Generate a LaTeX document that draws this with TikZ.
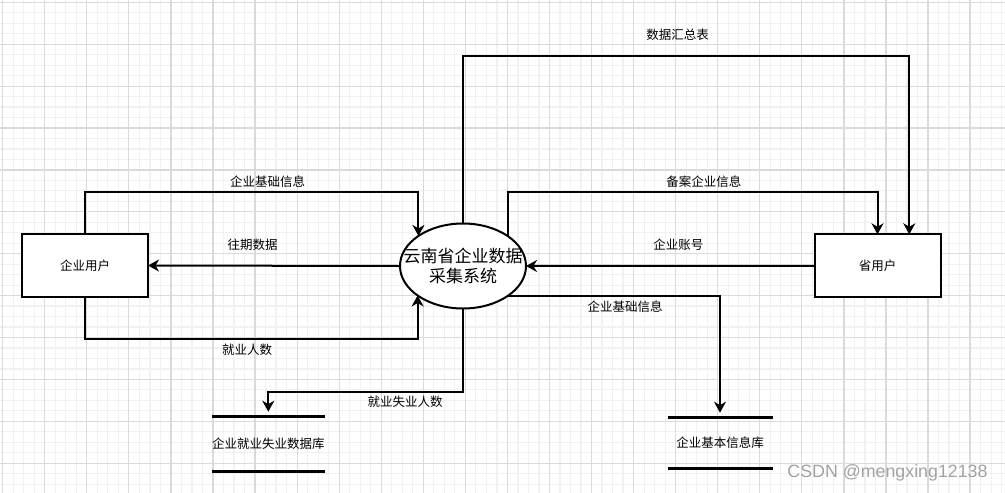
\documentclass[tikz,border=0pt]{standalone}
\usepackage{fontspec}
\setmainfont{Noto Sans CJK SC}
\newfontfamily\markfont{Liberation Sans}
\usetikzlibrary{arrows.meta,shapes.geometric}

\definecolor{gridmajor}{HTML}{DADADA}
\definecolor{gridminor}{HTML}{F1F1F1}
\definecolor{markgray}{HTML}{A2A2A2}

\tikzset{
  minorgrid/.style={draw=gridminor, line width=1.2pt},
  majorgrid/.style={draw=gridmajor, line width=1.2pt},
  entity/.style={draw, fill=white, line width=2pt, minimum width=126pt,
    minimum height=63pt, inner sep=0pt, outer sep=0pt,
    font=\fontsize{12.5}{15}\selectfont},
  process/.style={ellipse, draw, fill=white, line width=2pt, minimum width=126pt,
    minimum height=85pt, inner sep=0pt, outer sep=0pt},
  processtext/.style={inner sep=0pt, align=center,
    font=\fontsize{17}{20}\selectfont},
  datastore/.style={minimum width=105pt, inner sep=0pt, outer sep=0pt,
    font=\fontsize{12.5}{15}\selectfont},
  storeline/.style={line width=2.5pt},
  flow/.style={line width=2pt, -{Stealth[length=11pt,width=12pt,inset=3.5pt]}},
  flowlabel/.style={inner sep=0pt, font=\fontsize{12.5}{15}\selectfont},
}

\begin{document}
\begin{tikzpicture}[x=1pt,y=-1pt]
  \fill[white] (0,0) rectangle (1005,493);
  \useasboundingbox (0,0) rectangle (1005,493);

  % background grid
  \foreach \i in {0,...,95} {
    \draw[minorgrid] ({2.7+\i*10.515},0) -- ({2.7+\i*10.515},493);
  }
  \foreach \j in {0,...,46} {
    \draw[minorgrid] (0,{2.3+\j*10.475}) -- (1005,{2.3+\j*10.475});
  }
  \foreach \i in {0,...,23} {
    \draw[majorgrid] ({2.7+\i*42.06},0) -- ({2.7+\i*42.06},493);
  }
  \foreach \j in {0,...,11} {
    \draw[majorgrid] (0,{2.3+\j*41.9}) -- (1005,{2.3+\j*41.9});
  }

  % external entities and the process
  \node[entity] (ent) at (85,265.5) {企业用户};
  \node[entity] (prov) at (877.5,265.8) {省用户};
  \node[process] (sys) at (463,266) {};
  \node[processtext] (systext) at (sys.center) {云南省企业数据\\采集系统};

  % data stores
  \node[datastore, minimum height=55pt] (empdb) at (268.3,444.2) {企业就业失业数据库};
  \draw[storeline] (empdb.north west) -- (empdb.north east);
  \draw[storeline] (empdb.south west) -- (empdb.south east);
  \node[datastore, minimum height=50.6pt] (infodb) at (720,443) {企业基本信息库};
  \draw[storeline] (infodb.north west) -- (infodb.north east);
  \draw[storeline] (infodb.south west) -- (infodb.south east);

  % data flows
  \draw[flow] (ent.north) -- ++(0,-42) -| (sys.146.6);
  \draw[flow] (sys.west) -- (ent.east);
  \draw[flow] (ent.south) -- ++(0,41.5) -| (sys.213.4);
  \draw[flow] (sys.north) -- ++(0,-167.3) -| ([xshift=31.8pt]prov.north);
  \draw[flow] (sys.34.6) |- (760,192.3) -| (prov.north);
  \draw[flow] (prov.west) -- (sys.east);
  \draw[flow] (sys.-34.6) -| ([yshift=5pt]infodb.north);
  \draw[flow] (sys.south) -- ++(0,83.7) -| ([yshift=5pt]empdb.north);

  % flow labels
  \node[flowlabel] (l1) at (267.5,181.7) {企业基础信息};
  \node[flowlabel] (l2) at (252.5,245) {往期数据};
  \node[flowlabel] (l3) at (247,350) {就业人数};
  \node[flowlabel] (l4) at (677.7,35) {数据汇总表};
  \node[flowlabel] (l5) at (703.8,181.7) {备案企业信息};
  \node[flowlabel] (l6) at (678.3,244.3) {企业账号};
  \node[flowlabel] (l7) at (625,306.7) {企业基础信息};
  \node[flowlabel] (l8) at (405,401.7) {就业失业人数};

  % watermark
  \node[inner sep=0pt, text=markgray, font=\markfont\fontsize{17.8}{20}\selectfont]
    (mark) at (887.5,473) {CSDN @mengxing12138};
\end{tikzpicture}
\end{document}
